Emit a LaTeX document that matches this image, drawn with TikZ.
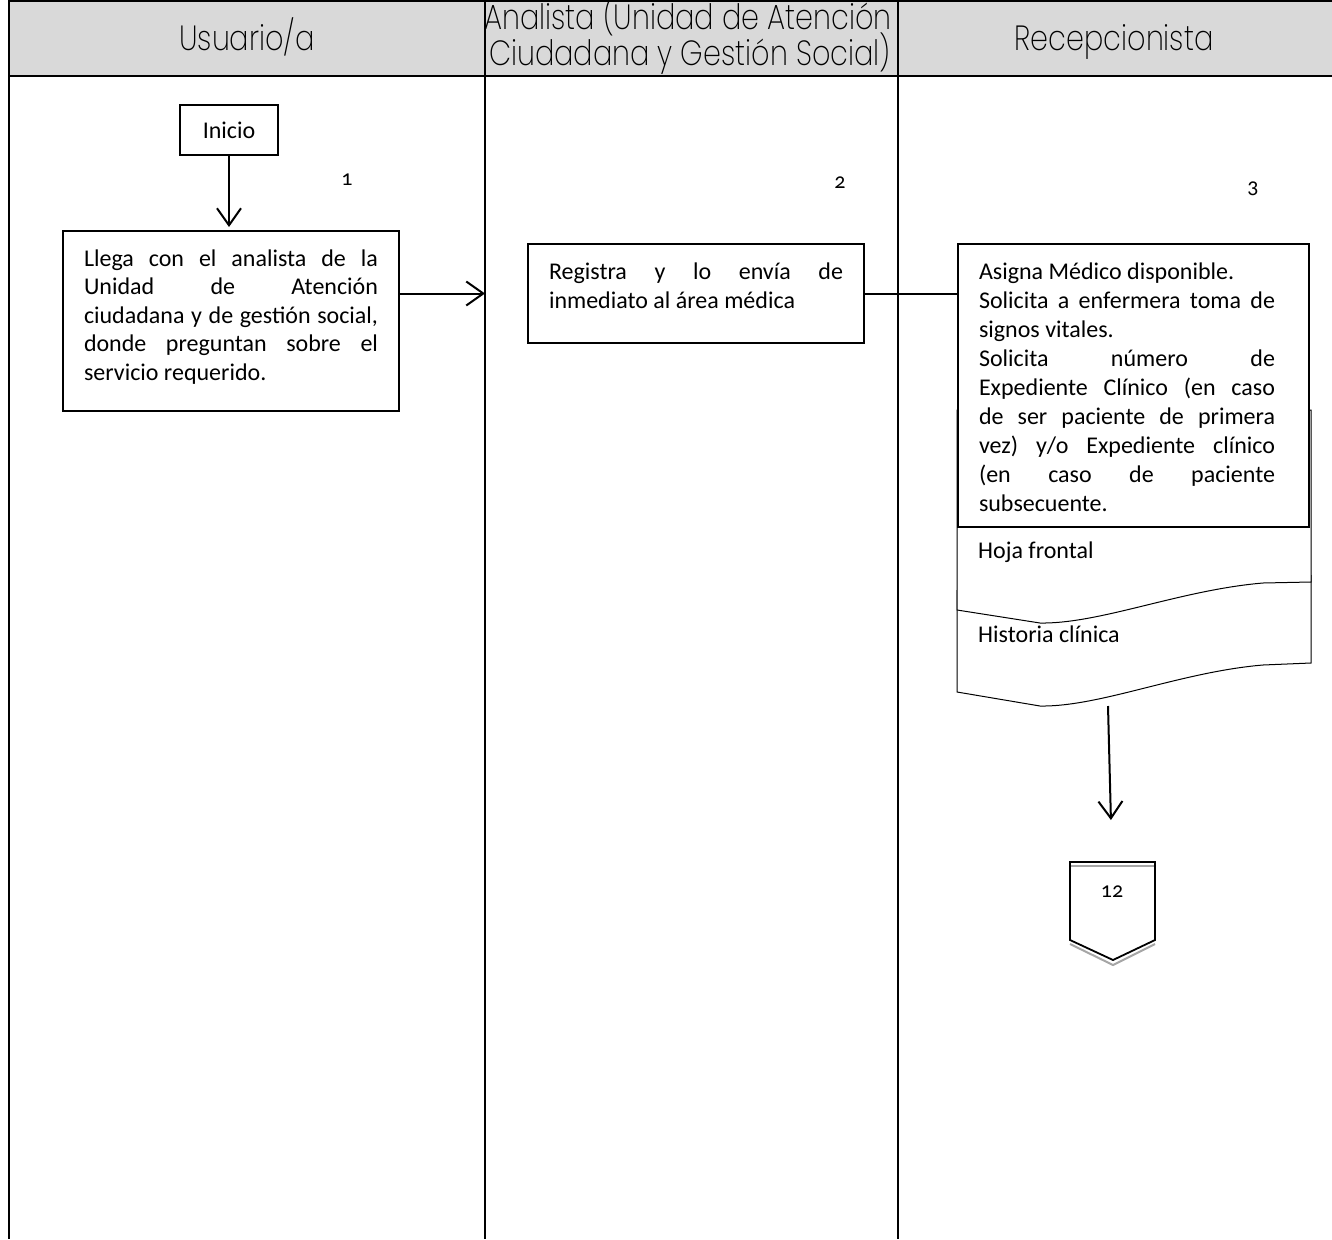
\documentclass[tikz,border=0pt]{standalone}
\usepackage{fontspec}
\setmainfont{Carlito}
\IfFontExistsTF{Poppins ExtraLight}
  {\newfontfamily\headfont[FakeStretch=0.82]{Poppins ExtraLight}}
  {\IfFontExistsTF{Poppins Light}
    {\newfontfamily\headfont[FakeStretch=0.82]{Poppins Light}}
    {\newfontfamily\headfont[FakeStretch=0.82]{Poppins}}}
\newfontfamily\stepnumfont[Numbers=OldStyle]{Carlito}
\usetikzlibrary{arrows.meta}
\definecolor{headgray}{HTML}{D9D9D9}
\definecolor{shadowgray}{HTML}{A6A6A6}

% justified text block: width, height, left inset, right inset, text
\newcommand\boxpar[5]{%
  \hspace*{#3}\parbox[c][#2][t]{#1}{%
    \pretolerance=-1 \tolerance=10000 \hyphenpenalty=10000 \linepenalty=1000
    \rule{0pt}{35pt}#5}\hspace*{#4}}

\tikzset{
  frame/.style={line width=2pt},
  proc/.style={draw, line width=2pt, fill=white, inner sep=0pt, anchor=north west,
    font=\fontsize{24pt}{29pt}\selectfont},
  sheet/.style={line width=1pt},
  flow/.style={line width=2pt, -{Straight Barb[length=17pt,width=24pt,line width=2pt]}},
  plain/.style={line width=2pt},
  lanehead/.style={font=\headfont\fontsize{35pt}{32pt}\selectfont, inner sep=0pt, anchor=base},
  stepno/.style={font=\stepnumfont\fontsize{22pt}{26pt}\selectfont, inner sep=0pt},
  doclabel/.style={font=\fontsize{24pt}{29pt}\selectfont, inner sep=0pt, anchor=base west}
}

\begin{document}
\begin{tikzpicture}[x=1pt,y=-1pt]
\useasboundingbox (0,0) rectangle (1332,1239);

% lane header band and frame
\fill[headgray] (10,1) rectangle (1332,76);
\coordinate (laneL) at (9,0);
\coordinate (laneA) at (485,0);
\coordinate (laneB) at (898,0);
\draw[frame] (9,0.8) -- (1332,0.8);
\draw[frame] (9,76) -- (1332,76);
\draw[frame] (laneL) -- (9,1239);
\draw[frame] (laneA) -- (485,1239);
\draw[frame] (laneB) -- (898,1239);

% lane titles
\node[lanehead] (hUser) at (247,51) {Usuario/a};
\begin{scope}
  \clip (486,2) rectangle (897,75);
  \node[lanehead] (hAnalystA) at (688,30) {Analista (Unidad de Atención};
  \node[lanehead] (hAnalystB) at (690,66) {Ciudadana y Gestión Social)};
\end{scope}
\node[lanehead] (hRecep) at (1114,51) {Recepcionista};

% step numbers
\node[stepno] (n1) at (347,180) {1};
\node[stepno] (n2) at (840,183) {2};
\node[stepno] (n3) at (1253,189) {3};

% start
\node[draw, line width=2pt, minimum width=98pt, minimum height=50pt, inner sep=0pt,
  font=\fontsize{24pt}{29pt}\selectfont] (inicio) at (229,130) {Inicio};

% step 1
\node[proc] (p1) at (62,230) {\boxpar{294pt}{180pt}{21pt}{21pt}{%
  \baselineskip=28.5pt
  Llega con el analista de la\linebreak
  Unidad de Atención\linebreak
  ciudadana y de gestión social,\linebreak
  donde preguntan sobre el\linebreak
  servicio requerido.}};

% step 2
\node[proc] (p2) at (527,243) {\boxpar{294pt}{99pt}{21pt}{21pt}{%
  Registra y lo envía de\linebreak
  inmediato al área médica}};

% documents behind step 3
\draw[sheet] (957,590) -- (957,692) -- (1040,706)
  .. controls (1100,707) and (1180,672) .. (1263,665) -- (1311,663) -- (1311,575);
\draw[sheet, fill=white] (957,410) -- (957,610) -- (1040,623)
  .. controls (1100,624) and (1180,590) .. (1263,583) -- (1311,582) -- (1311,410) -- cycle;
\node[doclabel] (d1) at (978,558) {Hoja frontal};
\node[doclabel] (d2) at (978,642) {Historia clínica};
\coordinate (docbot) at (1108,706);

% step 3
\node[proc] (p3) at (957,243) {\boxpar{296pt}{283pt}{21pt}{34pt}{%
  Asigna Médico disponible.\\
  Solicita a enfermera toma de\linebreak
  signos vitales.\\
  Solicita número de\linebreak
  Expediente Clínico (en caso\linebreak
  de ser paciente de primera\linebreak
  vez) y/o Expediente clínico\linebreak
  (en caso de paciente\linebreak
  subsecuente.}};

% off-page connector
\draw[shadowgray, line width=1.5pt] (1071,866) -- (1154,866);
\draw[shadowgray, line width=2pt] (1070,944) -- (1113,965) -- (1155,944);
\draw[line width=1.8pt, line join=miter] (1070,862) -- (1155,862) -- (1155,940)
  -- (1113,960) -- (1070,940) -- cycle;
\node[stepno] (c12) at (1112,892) {12};
\coordinate (c12top) at (1112,862);

% connectors
\draw[flow, shorten >=3pt] (inicio.south) -- (inicio.south |- p1.north);
\draw[flow] (p1.east |- p2.west) -- (laneA |- p2.west);
\draw[plain] (p2.east) -- (p3.west |- p2.east);
\draw[flow, shorten >=42pt] (docbot) -- (c12top);
\end{tikzpicture}
\end{document}
